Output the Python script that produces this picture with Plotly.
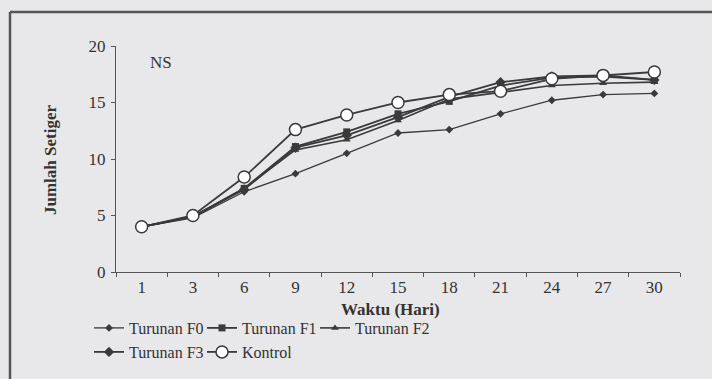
import plotly.graph_objects as go

days = ["1", "3", "6", "9", "12", "15", "18", "21", "24", "27", "30"]
f0 = [4.0, 4.8, 7.1, 8.7, 10.5, 12.3, 12.6, 14.0, 15.2, 15.7, 15.8]
f1 = [4.0, 4.9, 7.4, 11.1, 12.4, 14.0, 15.1, 16.5, 17.2, 17.3, 17.0]
f2 = [4.0, 4.9, 7.4, 10.8, 11.7, 13.4, 15.3, 15.9, 16.5, 16.7, 16.8]
f3 = [4.0, 4.9, 7.3, 11.0, 12.1, 13.7, 15.5, 16.8, 17.3, 17.4, 17.0]
kontrol = [4.0, 5.0, 8.4, 12.6, 13.9, 15.0, 15.7, 16.0, 17.1, 17.4, 17.7]
y_ticks = [0, 5, 10, 15, 20]

bg = "#e8e8ea"
ink = "#3a3a3a"
serif = "Liberation Serif, Times New Roman, serif"

fig = go.Figure()

def add(name, vals, symbol, size, width, legend, fill=None):
    fig.add_trace(go.Scatter(
        x=days, y=vals, name=name, mode="lines+markers",
        line=dict(color=ink, width=width),
        marker=dict(symbol=symbol, size=size, color=fill or ink,
                    line=dict(color=ink, width=1.5 if fill else 0)),
        legend=legend,
    ))

add("Turunan F0", f0, "diamond", 6, 1.3, "legend")
add("Turunan F1", f1, "square", 7, 1.8, "legend2")
add("Turunan F2", f2, "triangle-up", 7, 1.6, "legend3")
add("Turunan F3", f3, "diamond", 8, 1.8, "legend4")
add("Kontrol", kontrol, "circle", 12, 1.8, "legend5", fill="white")


def legend_cfg(left_px, top_px):
    return dict(
        orientation="h", xref="container", yref="container",
        x=left_px / 712, y=1 - top_px / 379,
        xanchor="left", yanchor="top", bgcolor="rgba(0,0,0,0)",
        font=dict(family=serif, size=16, color="#333"),
        itemwidth=30, tracegroupgap=0,
    )


fig.update_layout(
    width=712, height=379,
    margin=dict(l=116, r=32, t=46, b=107, autoexpand=False),
    font=dict(family=serif, color="#333"),
    paper_bgcolor=bg, plot_bgcolor=bg,
    showlegend=True,
    legend=legend_cfg(89, 311),
    legend2=legend_cfg(89 + 113, 311),
    legend3=legend_cfg(89 + 226, 311),
    legend4=legend_cfg(89, 335),
    legend5=legend_cfg(89 + 113, 335),
    xaxis=dict(
        type="category", range=[-0.5, 10.5], automargin=False,
        showline=True, linecolor="#555", linewidth=1,
        ticks="outside", ticklen=4, tickcolor="#555", tickson="boundaries",
        showgrid=False, zeroline=False,
        tickfont=dict(family=serif, size=17, color="#333"),
    ),
    yaxis=dict(
        range=[0, 20], tickvals=y_ticks, automargin=False,
        showline=True, linecolor="#555", linewidth=1,
        ticks="outside", ticklen=4, tickcolor="#555",
        ticklabelstandoff=2,
        showgrid=False, zeroline=False,
        tickfont=dict(family=serif, size=17, color="#333"),
    ),
    annotations=[
        dict(text="NS", xref="paper", yref="paper", x=0.057, y=0.925,
             xanchor="left", yanchor="middle", showarrow=False,
             font=dict(family=serif, size=17, color="#333")),
        dict(text="<b>Waktu (Hari)</b>", xref="paper", yref="paper",
             x=(390 - 116) / 564, y=(272 - 309) / 226,
             xanchor="center", yanchor="middle", showarrow=False,
             font=dict(family=serif, size=17, color="#333")),
        dict(text="<b>Jumlah Setiger</b>", xref="paper", yref="paper",
             x=(50 - 116) / 564, y=(272 - 160) / 226, textangle=-90,
             xanchor="center", yanchor="middle", showarrow=False,
             font=dict(family=serif, size=17, color="#333")),
    ],
    shapes=[
        dict(type="line", xref="paper", yref="paper",
             x0=(10 - 116) / 564, x1=1.2, y0=(272 - 12) / 226, y1=(272 - 12) / 226,
             line=dict(color="#555", width=2.5)),
        dict(type="line", xref="paper", yref="paper",
             x0=(10 - 116) / 564, x1=(10 - 116) / 564, y0=(272 - 12) / 226, y1=-0.6,
             line=dict(color="#555", width=2.5)),
    ],
)

fig.write_html(
    "out.html",
    config={"displayModeBar": False},
    post_script="document.body.style.margin='0';document.body.style.background='%s';" % bg,
)
